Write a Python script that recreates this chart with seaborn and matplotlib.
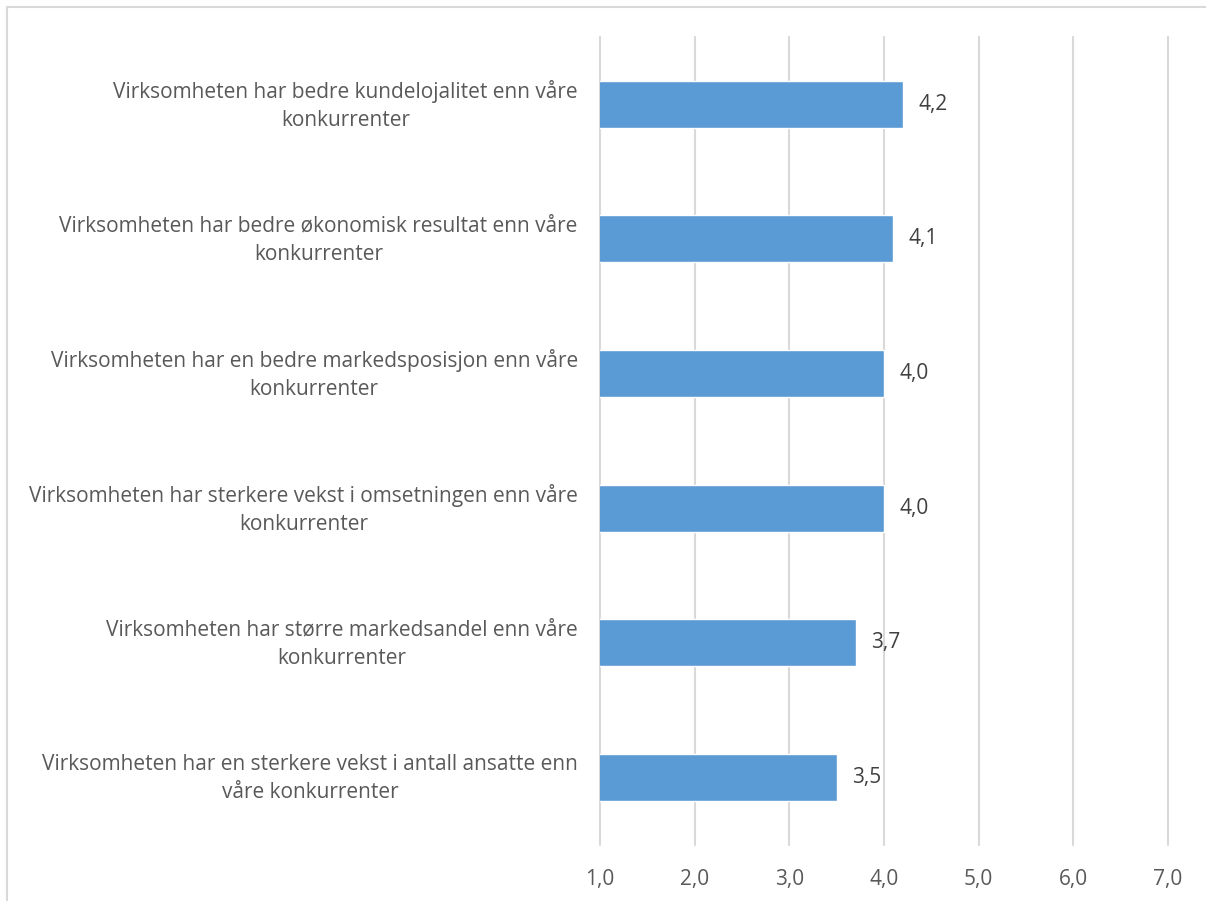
import matplotlib
matplotlib.use("Agg")
import matplotlib.pyplot as plt
from matplotlib.lines import Line2D
from matplotlib.transforms import ScaledTranslation
import seaborn as sns
import pandas as pd

categories = [
    "Virksomheten har bedre kundelojalitet enn våre\nkonkurrenter",
    "Virksomheten har bedre økonomisk resultat enn våre\nkonkurrenter",
    "Virksomheten har en bedre markedsposisjon enn våre\nkonkurrenter",
    "Virksomheten har sterkere vekst i omsetningen enn våre\nkonkurrenter",
    "Virksomheten har større markedsandel enn våre\nkonkurrenter",
    "Virksomheten har en sterkere vekst i antall ansatte enn\nvåre konkurrenter",
]
values = [4.2, 4.1, 4.0, 4.0, 3.7, 3.5]
x_ticks = [1, 2, 3, 4, 5, 6, 7]

sns.set_theme(style="white")
plt.rcParams["font.family"] = ["Open Sans", "DejaVu Sans"]

text_color = "#595959"
bar_color = "#5B9BD5"
grid_color = "#D9D9D9"
fs = 15

df = pd.DataFrame({"label": categories, "value": values})

fig = plt.figure(figsize=(12.06, 9.01), dpi=100)
ax = fig.add_axes([0.4975, 0.0622, 0.471, 0.897])

sns.barplot(data=df, x="value", y="label", orient="h", color=bar_color,
            width=0.35, saturation=1, ax=ax, zorder=3)

ax.set_xlim(1, 7)
ax.set_xticks(x_ticks)
ax.set_xticklabels([f"{t:.1f}".replace(".", ",") for t in x_ticks])
ax.xaxis.grid(True, color=grid_color, linewidth=1.5, zorder=0)
for gl in ax.get_xgridlines():
    gl.set_clip_on(False)
ax.set_axisbelow(True)
for s in ax.spines.values():
    s.set_visible(False)

ax.set_xlabel("")
ax.set_ylabel("")
ax.tick_params(axis="x", length=0, pad=17, labelsize=fs, labelcolor=text_color)
ax.tick_params(axis="y", length=0, pad=16, labelsize=fs, labelcolor=text_color)
lift = ScaledTranslation(0, 5 / 100, fig.dpi_scale_trans)
for lbl in ax.get_yticklabels():
    lbl.set_multialignment("center")
    lbl.set_linespacing(1.45)
    lbl.set_transform(lbl.get_transform() + lift)

for cont in ax.containers:
    ax.bar_label(cont, labels=[f"{v:.1f}".replace(".", ",") for v in values],
                 padding=11, fontsize=fs, color="#404040")

# thin frame along the top and left edges of the figure
fig.add_artist(Line2D([0.0058, 1.0], [0.9922, 0.9922], color=grid_color, lw=1.5,
                      transform=fig.transFigure))
fig.add_artist(Line2D([0.0058, 0.0058], [0.0, 0.9922], color=grid_color, lw=1.5,
                      transform=fig.transFigure))

fig.savefig("out.png", dpi=100, facecolor="white")
